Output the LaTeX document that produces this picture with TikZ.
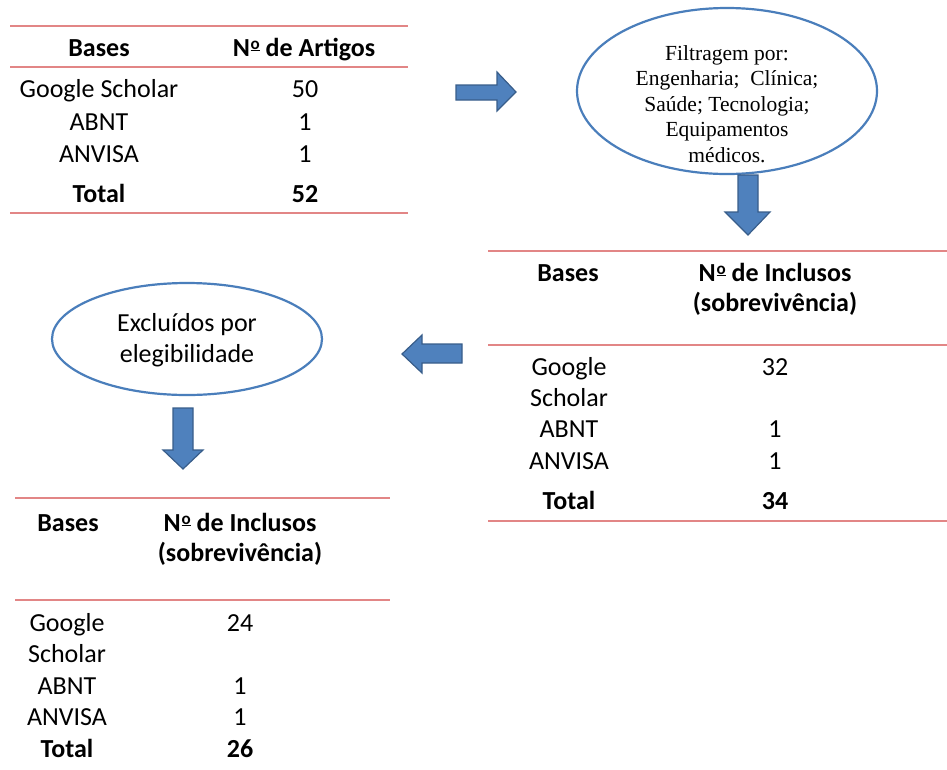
\documentclass[tikz,border=0pt]{standalone}
\usepackage{fontspec}
\setmainfont{Carlito}
\newfontfamily\serifbox{Liberation Serif}
\usetikzlibrary{shapes.geometric}
\definecolor{rule}{RGB}{226,134,134}
\definecolor{fillblue}{RGB}{79,129,189}
\definecolor{edgeblue}{RGB}{56,93,138}
\definecolor{ellblue}{RGB}{74,126,187}
\newcommand{\numsign}{N\kern0.8pt\raisebox{0.55ex}{\fontsize{17}{17}\selectfont\underline{o}}}
\tikzset{
  rulel/.style={draw=rule,line width=1.3pt},
  cell/.style={font=\fontsize{26}{31}\selectfont,inner sep=0pt,anchor=base},
  hcell/.style={cell,font=\fontsize{26}{31}\selectfont\bfseries},
  bigarrow/.style={fill=fillblue,draw=edgeblue,line width=1.2pt,line join=miter},
  ell/.style={draw=ellblue,line width=2.2pt,fill=white}
}
\begin{document}
\begin{tikzpicture}[x=1pt,y=-1pt]
\useasboundingbox (0,0) rectangle (947,769);

% ---------- top table ----------
\draw[rulel] (10,26) -- (408,26);
\draw[rulel] (10,67) -- (408,67);
\draw[rulel] (10,213) -- (408,213);
\node[hcell] (t1h1) at (99,56) {Bases};
\node[hcell] (t1h2) at (304,56) {\numsign{} de Artigos};
\node[cell] (t1r1a) at (99,97) {Google Scholar};
\node[cell] (t1r1b) at (305,97) {50};
\node[cell] (t1r2a) at (99,130) {ABNT};
\node[cell] (t1r2b) at (305,130) {1};
\node[cell] (t1r3a) at (99,162) {ANVISA};
\node[cell] (t1r3b) at (305,162) {1};
\node[hcell] (t1r4a) at (99,202) {Total};
\node[hcell] (t1r4b) at (305,202) {52};

% ---------- arrow right ----------
\draw[bigarrow] (456,85) -- (497,85) -- (497,72) -- (516,92) -- (497,111) -- (497,100) -- (456,100) -- cycle;

% ---------- ellipse 1 ----------
\node[ell,ellipse,minimum width=300pt,minimum height=166pt] (e1) at (727,91) {};
\node[font=\serifbox\fontsize{21.5}{25.5}\selectfont,align=center,inner sep=0pt] (e1t) at (727,104)
  {Filtragem por:\\Engenharia;\ \ Clínica;\\Saúde; Tecnologia;\\Equipamentos\\médicos.};

% ---------- arrow down 1 ----------
\draw[bigarrow] (738,175) -- (758,175) -- (758,212) -- (770,212) -- (748,235) -- (725,212) -- (738,212) -- cycle;

% ---------- right table ----------
\draw[rulel] (488,251) -- (947,251);
\draw[rulel] (488,345) -- (947,345);
\draw[rulel] (488,521) -- (947,521);
\node[hcell] (t2h1) at (568,281) {Bases};
\node[hcell] (t2h2) at (775,281) {\numsign{} de Inclusos};
\node[hcell] (t2h3) at (775,311) {(sobrevivência)};
\node[cell] (t2r1a) at (569,375) {Google};
\node[cell] (t2r1c) at (569,406) {Scholar};
\node[cell] (t2r1b) at (775,375) {32};
\node[cell] (t2r2a) at (569,437) {ABNT};
\node[cell] (t2r2b) at (775,437) {1};
\node[cell] (t2r3a) at (569,469) {ANVISA};
\node[cell] (t2r3b) at (775,469) {1};
\node[hcell] (t2r4a) at (569,509) {Total};
\node[hcell] (t2r4b) at (775,509) {34};

% ---------- arrow left ----------
\draw[bigarrow] (462,344) -- (422,344) -- (422,335) -- (402,354) -- (422,373) -- (422,363) -- (462,363) -- cycle;

% ---------- ellipse 2 ----------
\node[ell,ellipse,minimum width=270pt,minimum height=112pt] (e2) at (187,339) {};
\node[cell] (e2t1) at (187,331) {Excluídos por};
\node[cell] (e2t2) at (187,362) {elegibilidade};

% ---------- arrow down 2 ----------
\draw[bigarrow] (173,408) -- (193,408) -- (193,450) -- (203,450) -- (183,469) -- (163,450) -- (173,450) -- cycle;

% ---------- bottom table ----------
\draw[rulel] (15,498) -- (390,498);
\draw[rulel] (15,600) -- (390,600);
\node[hcell] (t3h1) at (68,531) {Bases};
\node[hcell] (t3h2) at (240,531) {\numsign{} de Inclusos};
\node[hcell] (t3h3) at (240,561) {(sobrevivência)};
\node[cell] (t3r1a) at (67,631) {Google};
\node[cell] (t3r1c) at (67,662) {Scholar};
\node[cell] (t3r1b) at (240,631) {24};
\node[cell] (t3r2a) at (67,694) {ABNT};
\node[cell] (t3r2b) at (240,694) {1};
\node[cell] (t3r3a) at (67,725) {ANVISA};
\node[cell] (t3r3b) at (240,725) {1};
\node[hcell] (t3r4a) at (67,757) {Total};
\node[hcell] (t3r4b) at (240,757) {26};
\end{tikzpicture}
\end{document}
